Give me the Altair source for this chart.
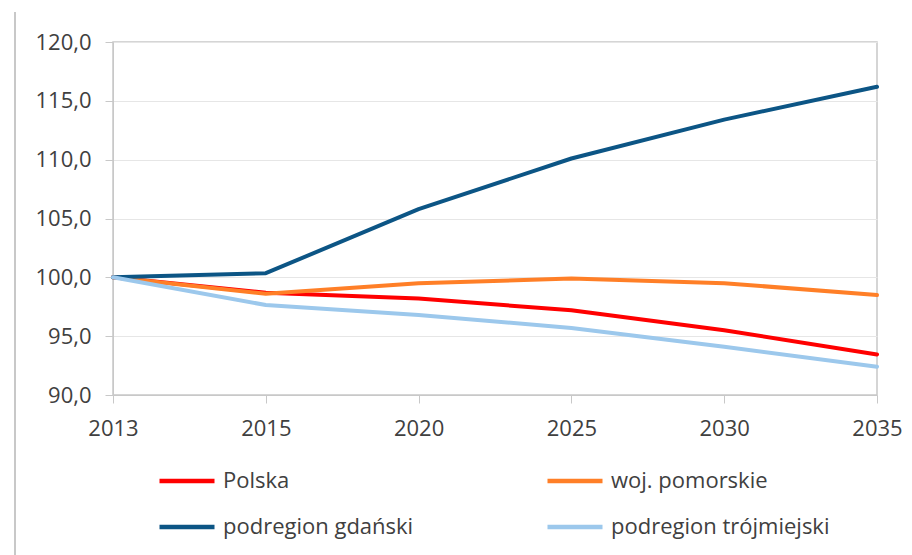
import altair as alt
import pandas as pd

years = ["2013", "2015", "2020", "2025", "2030", "2035"]
series_names = ["Polska", "woj. pomorskie", "podregion gdański", "podregion trójmiejski"]
polska = [100.0, 98.7, 98.2, 97.2, 95.5, 93.45]
pomorskie = [100.0, 98.6, 99.5, 99.9, 99.5, 98.5]
gdanski = [100.0, 100.35, 105.8, 110.1, 113.4, 116.2]
trojmiejski = [100.0, 97.65, 96.8, 95.7, 94.1, 92.4]
colors = ["#FF0000", "#FF7F27", "#0C5585", "#9CC8EC"]

# legend fills column by column: left column Polska / gdański, right column pomorskie / trójmiejski
legend_order = ["Polska", "podregion gdański", "woj. pomorskie", "podregion trójmiejski"]
legend_colors = [colors[series_names.index(n)] for n in legend_order]

rows = []
for name, vals in zip(series_names, [polska, pomorskie, gdanski, trojmiejski]):
    for y, v in zip(years, vals):
        rows.append({"rok": y, "seria": name, "wartosc": v})
df = pd.DataFrame(rows)

FONT = "Open Sans"
TXT = "#404040"
FS = 22

lines = alt.Chart(df).mark_line(strokeWidth=4, strokeCap="round", strokeJoin="round").encode(
    x=alt.X("rok:N", sort=years, scale=alt.Scale(type="point", padding=0),
            axis=alt.Axis(title=None, labelAngle=0, grid=False, tickSize=8,
                          domainColor="#C8C8C8", tickColor="#C8C8C8",
                          labelPadding=15)),
    y=alt.Y("wartosc:Q", scale=alt.Scale(domain=[90, 120], nice=False, zero=False),
            axis=alt.Axis(title=None, values=[90, 95, 100, 105, 110, 115, 120],
                          labelExpr="replace(format(datum.value, '.1f'), '.', ',')",
                          tickSize=8, labelPadding=14, gridColor="#E6E6E6",
                          domainColor="#C8C8C8", tickColor="#C8C8C8")),
    color=alt.Color("seria:N", sort=legend_order,
                    scale=alt.Scale(domain=legend_order, range=legend_colors),
                    legend=alt.Legend(title=None, orient="none", legendX=44, legendY=409,
                                      columns=2, columnPadding=124, rowPadding=5,
                                      symbolType="stroke", symbolSize=3025,
                                      symbolStrokeWidth=4.5, labelOffset=6,
                                      labelFont=FONT, labelFontSize=FS, labelColor=TXT,
                                      labelLimit=400)),
    order=alt.Order("rok:N"),
)

# thin frame line running down the left side of the figure
frame = alt.Chart(pd.DataFrame({"k": [0]})).mark_rule(color="#C8C8C8", strokeWidth=2).encode(
    x=alt.value(-98), y=alt.value(-30), y2=alt.value(515)
)

chart = alt.layer(frame, lines).properties(
    width=764, height=353,
    autosize=alt.AutoSizeParams(type="none"),
    padding={"left": 113, "top": 42, "right": 35, "bottom": 160},
).configure_view(stroke="#C8C8C8", strokeWidth=1.5).configure_axis(
    labelFont=FONT, labelFontSize=FS, labelColor=TXT
)

chart.save("out.html", embed_options={"renderer": "svg", "actions": False})
